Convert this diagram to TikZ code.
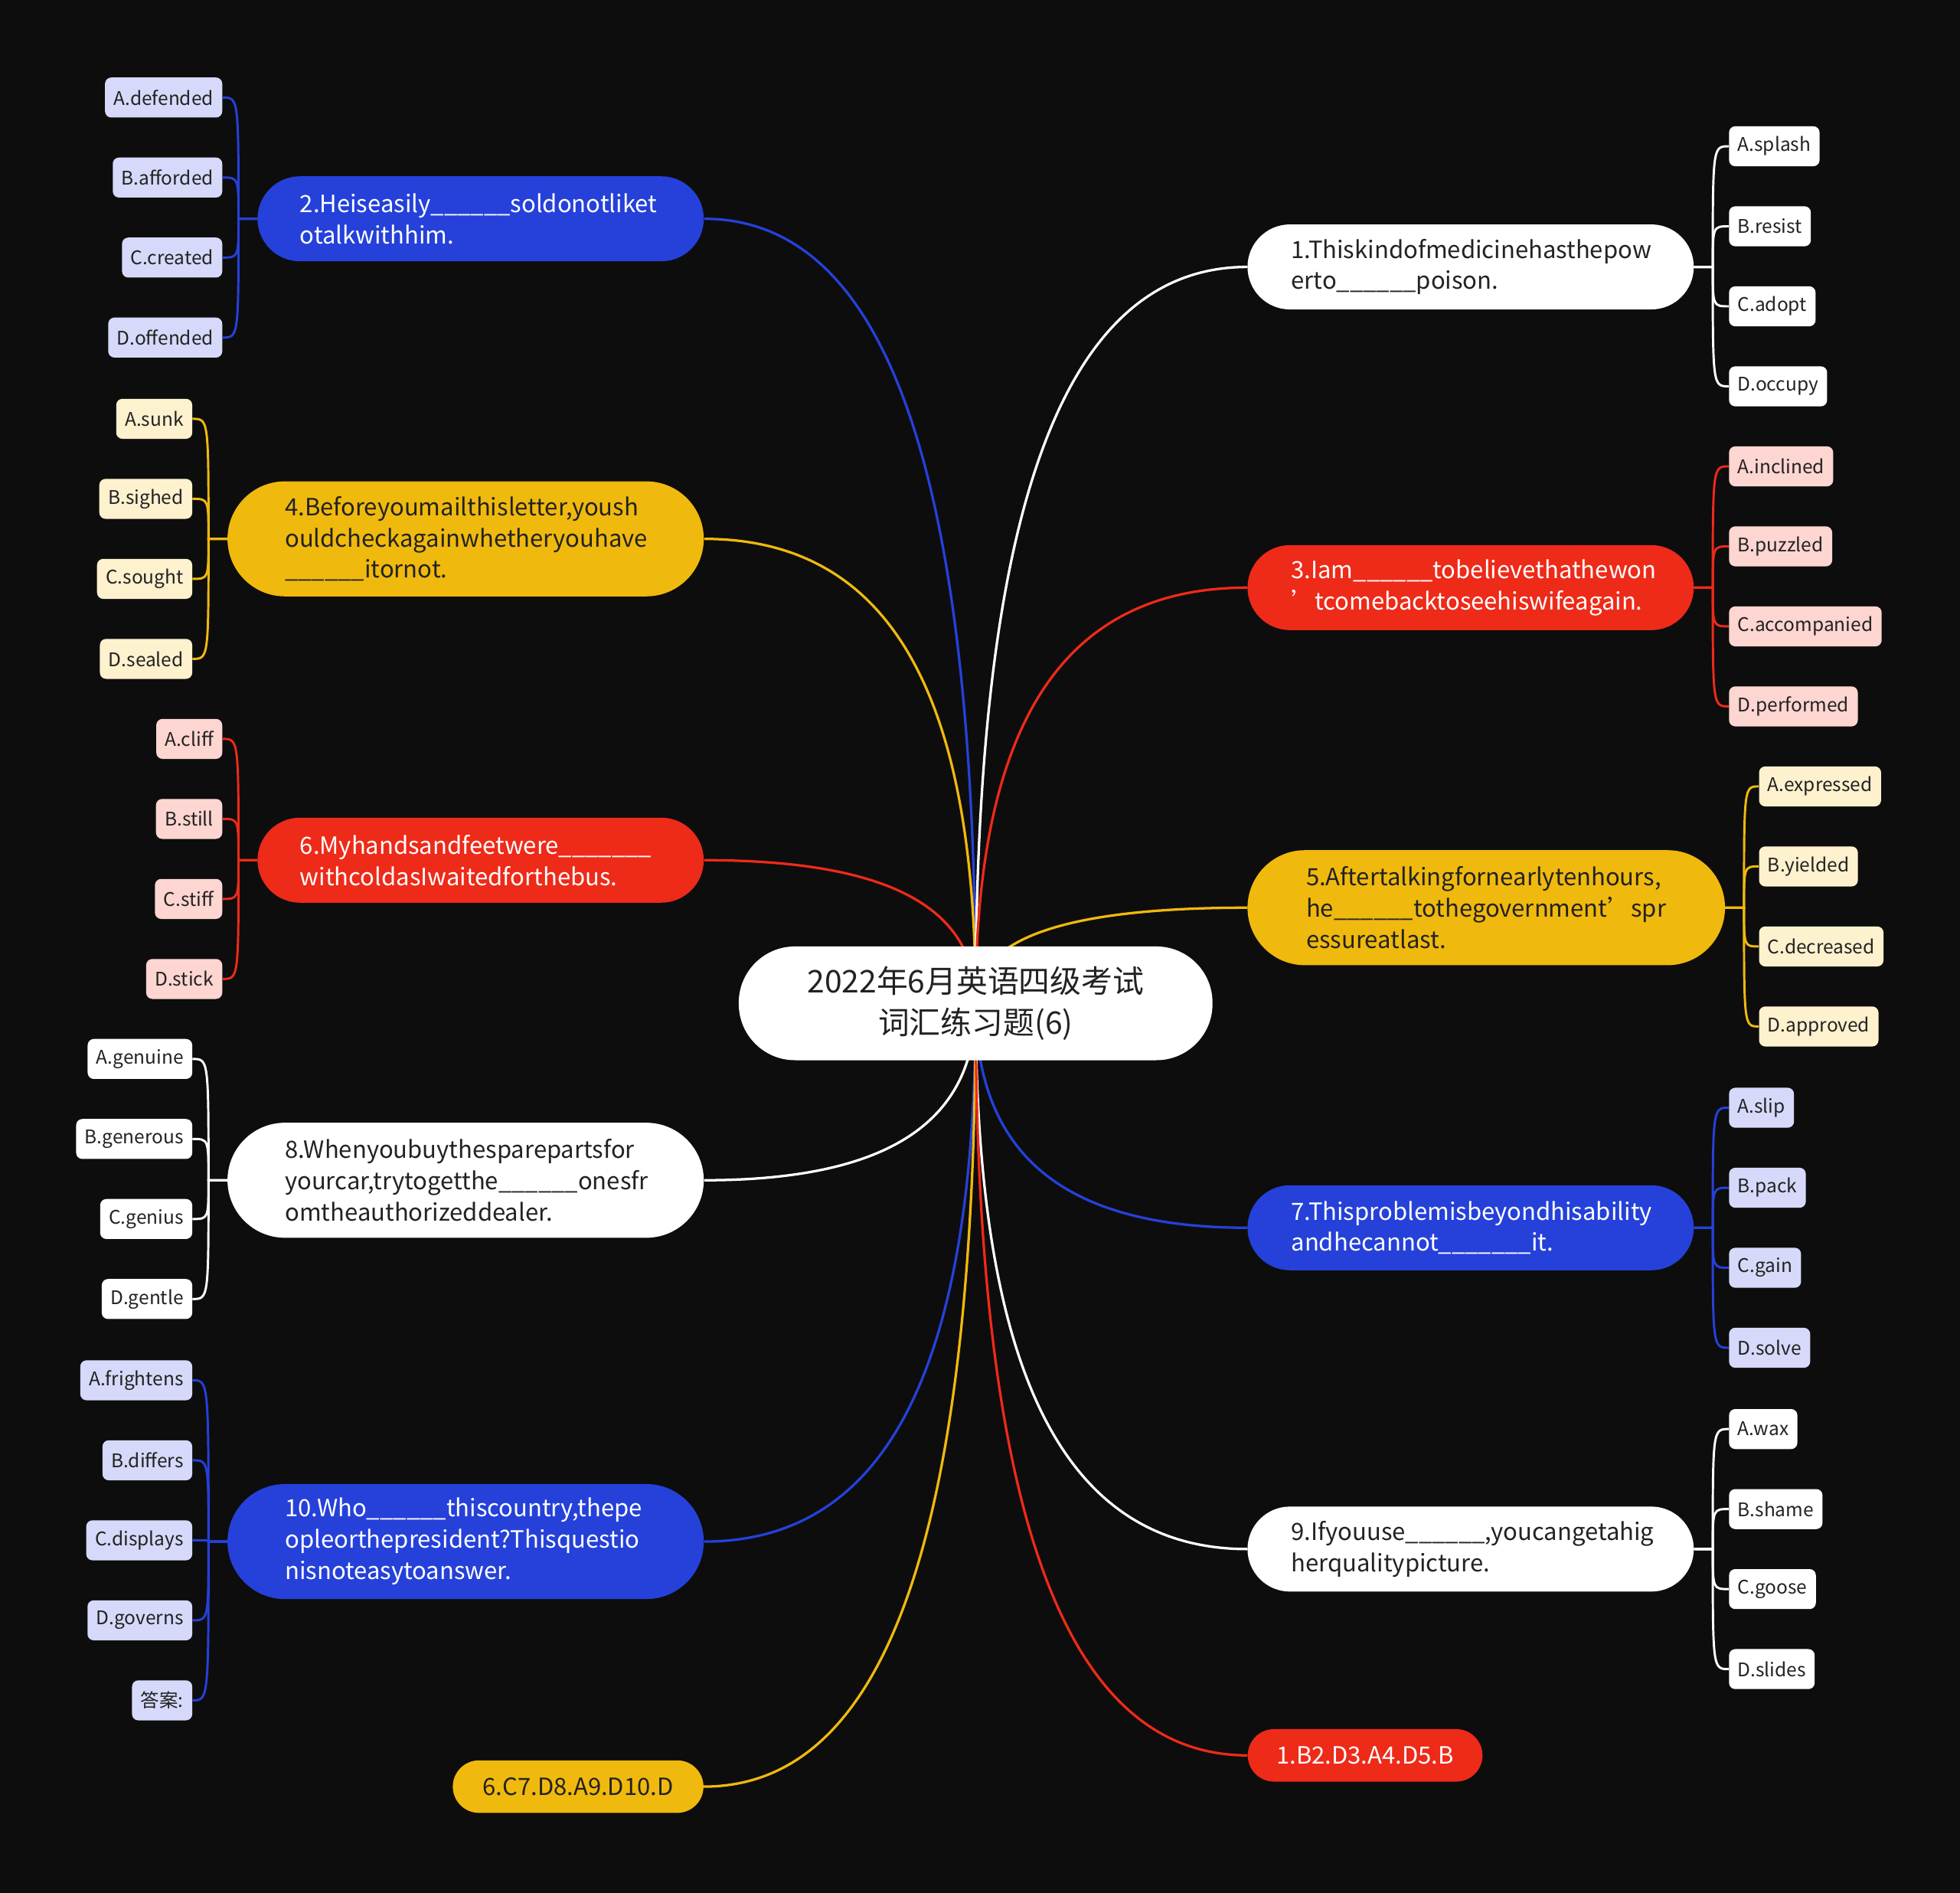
\documentclass[tikz,border=0pt]{standalone}
\usepackage{fontspec}
\setmainfont{Noto Sans CJK SC}
\usetikzlibrary{calc,backgrounds}
\definecolor{bgc}{HTML}{0D0D0D}
\definecolor{cblue}{HTML}{2541DA}
\definecolor{cred}{HTML}{EE2A19}
\definecolor{cyel}{HTML}{F0B90D}
\definecolor{lblue}{HTML}{D6D9F9}
\definecolor{lyel}{HTML}{FEF1CE}
\definecolor{lred}{HTML}{FDD5D1}
\definecolor{dtext}{HTML}{222222}
\newcommand\us{\_\_\_\_\_\_}
\newcommand\qt{\makebox[1em][l]{’}}
\tikzset{
  br/.style={rounded corners=#1, align=left, inner ysep=0pt, font=\fontsize{19}{25}\selectfont},
  leaf/.style={rounded corners=5pt, minimum height=32pt, inner xsep=7pt, inner ysep=0pt,
    font=\fontsize{15}{18}\selectfont, text=dtext},
  conn/.style={line width=2pt},
  lconn/.style={line width=1.8pt},
}
\newcommand\rootc[2]{%
  \path ($(root.center)!0.65!(#2)$) coordinate (ca) ($(root.center)!0.3!(#2)$) coordinate (cb);
  \draw[conn,#1] (root.center) .. controls (root.center |- ca) and (cb |- #2) .. (#2);}
\newcommand\leafL[3]{%
  \draw[lconn,#1] (#2.west) -- ++(-15pt,0) coordinate (sp) .. controls (sp |- #3.east) .. (#3.east);}
\newcommand\leafR[3]{%
  \draw[lconn,#1] (#2.east) -- ++(15pt,0) coordinate (sp) .. controls (sp |- #3.west) .. (#3.west);}
\begin{document}
\begin{tikzpicture}[x=1pt,y=-1pt]
\useasboundingbox (0,0) rectangle (1568,1514);
\begin{scope}[on background layer]
\fill[bgc] (0,0) rectangle (1568,1514);
\end{scope}

% root
\node[fill=white, rounded corners=45pt, minimum width=379pt, minimum height=91pt, align=center,
  font=\fontsize{25}{33}\selectfont, text=dtext] (root) at (780.5,802.5)
  {2022年6月英语四级考试\\词汇练习题(6)};

% left branches
\node[br=34pt, fill=cblue, text=white, text width=289pt, inner xsep=34pt, minimum height=68pt] (n2) at (384.5,175)
  {2.Heiseasily\us soldonotliket\\otalkwithhim.};
\node[br=46pt, fill=cyel, text=dtext, text width=289pt, inner xsep=46pt, minimum height=92pt] (n4) at (372.5,431)
  {4.Beforeyoumailthisletter,yoush\\ouldcheckagainwhetheryouhave\\\us itornot.};
\node[br=34pt, fill=cred, text=white, text width=289pt, inner xsep=34pt, minimum height=68pt] (n6) at (384.5,688)
  {6.Myhandsandfeetwere\us\_\\withcoldasIwaitedforthebus.};
\node[br=46pt, fill=white, text=dtext, text width=289pt, inner xsep=46pt, minimum height=92pt] (n8) at (372.5,944)
  {8.Whenyoubuythesparepartsfor\\yourcar,trytogetthe\us onesfr\\omtheauthorizeddealer.};
\node[br=46pt, fill=cblue, text=white, text width=289pt, inner xsep=46pt, minimum height=92pt] (n10) at (372.5,1233)
  {10.Who\us thiscountry,thepe\\opleorthepresident?Thisquestio\\nisnoteasytoanswer.};
\node[br=21pt, fill=cyel, text=dtext, inner xsep=24pt, minimum height=42pt, anchor=east] (ansL) at (563,1429)
  {6.C7.D8.A9.D10.D};

% right branches
\node[br=34pt, fill=white, text=dtext, text width=287pt, inner xsep=35pt, minimum height=68pt] (n1) at (1176.5,213.5)
  {1.Thiskindofmedicinehasthepow\\erto\us poison.};
\node[br=34pt, fill=cred, text=white, text width=287pt, inner xsep=35pt, minimum height=68pt] (n3) at (1176.5,470)
  {3.Iam\us tobelievethathewon\\\qt tcomebacktoseehiswifeagain.};
\node[br=46pt, fill=cyel, text=dtext, text width=288pt, inner xsep=47pt, minimum height=92pt] (n5) at (1189,726)
  {5.Aftertalkingfornearlytenhours,\\he\us tothegovernment\qt spr\\essureatlast.};
\node[br=34pt, fill=cblue, text=white, text width=287pt, inner xsep=35pt, minimum height=68pt] (n7) at (1176.5,982)
  {7.Thisproblemisbeyondhisability\\andhecannot\us\_it.};
\node[br=34pt, fill=white, text=dtext, text width=287pt, inner xsep=35pt, minimum height=68pt] (n9) at (1176.5,1239)
  {9.Ifyouuse\us,youcangetahig\\herqualitypicture.};
\node[br=21pt, fill=cred, text=white, inner xsep=23pt, minimum height=42pt, anchor=west] (ansR) at (998,1404)
  {1.B2.D3.A4.D5.B};

% leaves left
\foreach \t/\y [count=\i] in {A.defended/78,B.afforded/142,C.created/206,D.offended/270}{
  \node[leaf, fill=lblue, anchor=east] (n2l\i) at (178,\y) {\t};
  \leafL{cblue}{n2}{n2l\i}}
\foreach \t/\y [count=\i] in {A.sunk/335,B.sighed/399,C.sought/463,D.sealed/527}{
  \node[leaf, fill=lyel, anchor=east] (n4l\i) at (154,\y) {\t};
  \leafL{cyel}{n4}{n4l\i}}
\foreach \t/\y [count=\i] in {A.cliff/591,B.still/655,C.stiff/719,D.stick/783}{
  \node[leaf, fill=lred, anchor=east] (n6l\i) at (178,\y) {\t};
  \leafL{cred}{n6}{n6l\i}}
\foreach \t/\y [count=\i] in {A.genuine/847,B.generous/911,C.genius/975,D.gentle/1039}{
  \node[leaf, fill=white, anchor=east] (n8l\i) at (154,\y) {\t};
  \leafL{white}{n8}{n8l\i}}
\foreach \t/\y [count=\i] in {A.frightens/1104,B.differs/1168,C.displays/1232,D.governs/1296,答案:/1360}{
  \node[leaf, fill=lblue, anchor=east] (n10l\i) at (154,\y) {\t};
  \leafL{cblue}{n10}{n10l\i}}

% leaves right
\foreach \t/\y [count=\i] in {A.splash/117,B.resist/181,C.adopt/245,D.occupy/309}{
  \node[leaf, fill=white, anchor=west] (n1l\i) at (1383,\y) {\t};
  \leafR{white}{n1}{n1l\i}}
\foreach \t/\y [count=\i] in {A.inclined/373,B.puzzled/437,C.accompanied/501,D.performed/565}{
  \node[leaf, fill=lred, anchor=west] (n3l\i) at (1383,\y) {\t};
  \leafR{cred}{n3}{n3l\i}}
\foreach \t/\y [count=\i] in {A.expressed/629,B.yielded/693,C.decreased/757,D.approved/821}{
  \node[leaf, fill=lyel, anchor=west] (n5l\i) at (1407,\y) {\t};
  \leafR{cyel}{n5}{n5l\i}}
\foreach \t/\y [count=\i] in {A.slip/886,B.pack/950,C.gain/1014,D.solve/1078}{
  \node[leaf, fill=lblue, anchor=west] (n7l\i) at (1383,\y) {\t};
  \leafR{cblue}{n7}{n7l\i}}
\foreach \t/\y [count=\i] in {A.wax/1143,B.shame/1207,C.goose/1271,D.slides/1335}{
  \node[leaf, fill=white, anchor=west] (n9l\i) at (1383,\y) {\t};
  \leafR{white}{n9}{n9l\i}}

% root connectors
\begin{scope}[on background layer]
\rootc{cblue}{n2.east}
\rootc{cyel}{n4.east}
\rootc{cred}{n6.east}
\rootc{white}{n8.east}
\rootc{cblue}{n10.east}
\rootc{cyel}{ansL.east}
\rootc{white}{n1.west}
\rootc{cred}{n3.west}
\rootc{cyel}{n5.west}
\rootc{cblue}{n7.west}
\rootc{white}{n9.west}
\rootc{cred}{ansR.west}
\end{scope}
\end{tikzpicture}
\end{document}
